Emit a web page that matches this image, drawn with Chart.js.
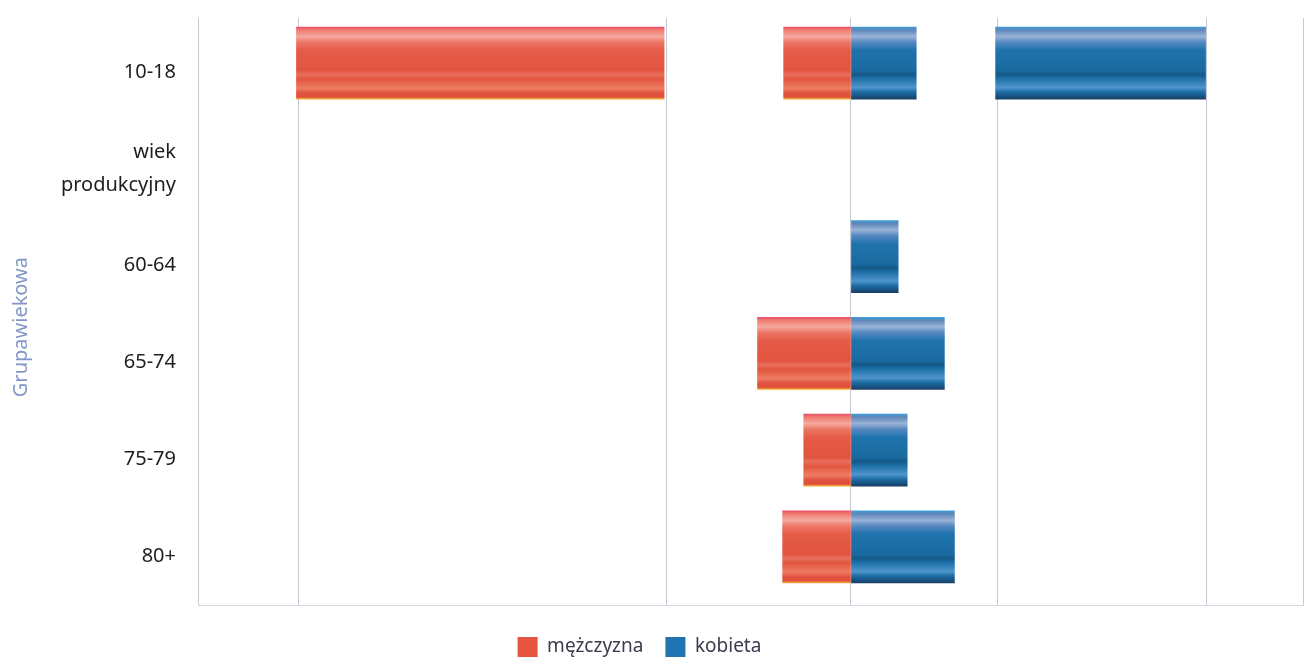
<!DOCTYPE html>
<html>
<head>
<meta charset="utf-8">
<script src="https://cdn.jsdelivr.net/npm/chart.js@4/dist/chart.umd.min.js"></script>
<style>
  html, body { margin: 0; padding: 0; background: #ffffff; }
  #wrap { width: 1312px; height: 659px; position: relative; }
</style>
</head>
<body>
<div id="wrap"><canvas id="c" width="1312" height="659"></canvas></div>
<script>
// ---- data (arbitrary units, zero = centre line) ----
const categories = ['10-18', ['wiek', 'produkcyjny'], '60-64', '65-74', '75-79', '80+'];
const menValues   = [-6.7, null, null, -9.3, -4.7, -6.8];
const womenValues = [6.5, null, 4.7, 9.3, 5.6, 10.3];
// extra segments that appear in the 10-18 row
const menExtra   = [[-55.2, -18.6], null, null, null, null, null];
const womenExtra = [[14.4, 35.3], null, null, null, null, null];
const gridTicks = [-65, -55, -18.4, 0, 14.6, 35.4, 45];
const seriesNames = ['mężczyzna', 'kobieta'];
const axisTitle = 'Grupawiekowa';

const RED = '#e6553f', BLUE = '#1f74b1';
const FONT = 'Noto Sans';

function toPoints(arr) {
  return arr.map((v, i) => (v === null ? null : { x: v, y: i })).filter(p => p !== null);
}

function redGrad(g) {
  g.addColorStop(0.00, '#e9506a');
  g.addColorStop(0.04, '#ef7b6f');
  g.addColorStop(0.13, '#f5a89e');
  g.addColorStop(0.21, '#ec7766');
  g.addColorStop(0.32, '#e55c48');
  g.addColorStop(0.60, '#e2543f');
  g.addColorStop(0.66, '#e86f5c');
  g.addColorStop(0.72, '#e2553f');
  g.addColorStop(0.85, '#ee7c63');
  g.addColorStop(0.91, '#e15540');
  g.addColorStop(0.97, '#e04d3a');
  g.addColorStop(1.00, '#f2b13c');
}
function blueGrad(g) {
  g.addColorStop(0.00, '#3f9bd6');
  g.addColorStop(0.04, '#5f86b8');
  g.addColorStop(0.13, '#98b3d6');
  g.addColorStop(0.21, '#5588c0');
  g.addColorStop(0.32, '#1f73ad');
  g.addColorStop(0.60, '#1a6aa0');
  g.addColorStop(0.66, '#145987');
  g.addColorStop(0.71, '#1c6ea6');
  g.addColorStop(0.84, '#4f95cc');
  g.addColorStop(0.90, '#1e6ea6');
  g.addColorStop(0.97, '#154f7c');
  g.addColorStop(1.00, '#1d3f66');
}

const HALF = 36;
function makeFill(solid, stopsFn) {
  return function (ctx) {
    if (ctx.type !== 'data' || !ctx.raw) return solid;
    const ys = ctx.chart.scales.y;
    if (!ys) return solid;
    const c = ys.getPixelForValue(ctx.raw.y);
    if (!isFinite(c)) return solid;
    const g = ctx.chart.ctx.createLinearGradient(0, c - HALF, 0, c + HALF);
    stopsFn(g);
    return g;
  };
}

const barCommon = {
  barThickness: 72,
  grouped: false,
  borderWidth: 0,
  borderSkipped: false
};

const legendShift = {
  id: 'legendShift',
  afterLayout(chart) {
    const lg = chart.legend;
    if (lg) { lg.left -= 12; lg.right -= 12; lg.top += 10; lg.bottom += 10; }
  }
};

new Chart(document.getElementById('c'), {
  type: 'bar',
  data: {
    datasets: [
      Object.assign({ label: seriesNames[0], data: toPoints(menValues),
        backgroundColor: makeFill(RED, redGrad) }, barCommon),
      Object.assign({ label: seriesNames[1], data: toPoints(womenValues),
        backgroundColor: makeFill(BLUE, blueGrad) }, barCommon),
      Object.assign({ label: seriesNames[0] + ' ', data: toPoints(menExtra),
        backgroundColor: makeFill(RED, redGrad) }, barCommon),
      Object.assign({ label: seriesNames[1] + ' ', data: toPoints(womenExtra),
        backgroundColor: makeFill(BLUE, blueGrad) }, barCommon)
    ]
  },
  plugins: [legendShift],
  options: {
    indexAxis: 'y',
    responsive: false,
    animation: false,
    devicePixelRatio: 1,
    layout: { padding: { top: 18, right: 9, left: 0, bottom: 2 } },
    plugins: {
      legend: {
        position: 'bottom',
        labels: {
          generateLabels: (chart) => {
            const items = Chart.defaults.plugins.legend.labels.generateLabels(chart)
              .filter(it => it.datasetIndex < 2);
            items.forEach(it => {
              const col = it.datasetIndex === 0 ? RED : BLUE;
              it.fillStyle = col; it.strokeStyle = col; it.lineWidth = 0;
            });
            return items;
          },
          boxWidth: 20,
          boxHeight: 20,
          padding: 22,
          color: '#3b3b4d',
          font: { family: FONT, size: 19 }
        }
      },
      tooltip: { enabled: false }
    },
    scales: {
      x: {
        type: 'linear',
        min: -65,
        max: 45,
        afterBuildTicks: (s) => { s.ticks = gridTicks.map(v => ({ value: v })); },
        ticks: { display: false },
        grid: {
          color: '#c3c8d4',
          lineWidth: 1,
          drawTicks: false,
          borderDash: [1, 3]
        },
        border: { display: true, color: '#d3d6de', width: 1, dash: [] }
      },
      y: {
        type: 'linear',
        reverse: true,
        offset: false,
        min: -0.466,
        max: 5.60,
        afterBuildTicks: (s) => { s.ticks = categories.map((c, i) => ({ value: i })); },
        afterFit: (s) => { s.width = 198; s.paddingTop = 0; s.paddingBottom = 0; },
        grid: { display: false, drawTicks: false },
        border: { display: false },
        ticks: {
          callback: (v) => categories[Math.round(v)],
          color: '#1e1e1e',
          padding: 22,
          labelOffset: 9,
          autoSkip: false,
          font: { family: FONT, size: 20, lineHeight: 1.65 }
        },
        title: {
          display: true,
          text: axisTitle + '      ',
          color: '#8396c6',
          font: { family: FONT, size: 20 },
          padding: { top: 9, bottom: 0 }
        }
      }
    }
  }
});
</script>
</body>
</html>
